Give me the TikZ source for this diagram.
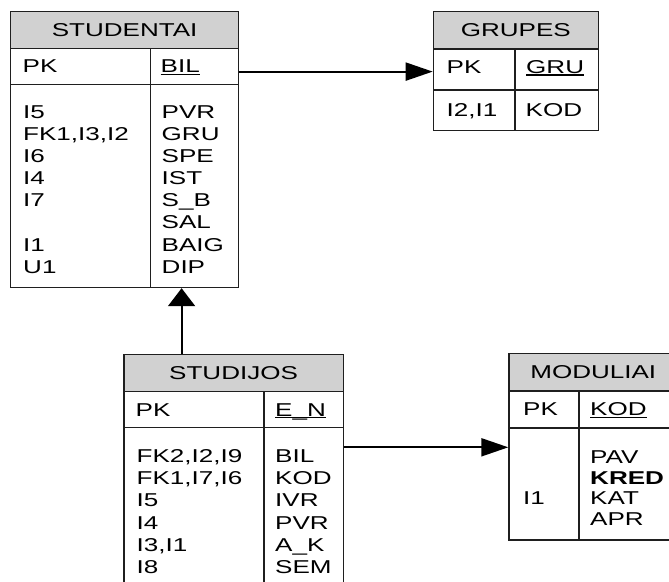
\documentclass[tikz,border=0pt]{standalone}
\usepackage{fontspec}
\setmainfont{Liberation Sans}[FakeStretch=1.4]
\usetikzlibrary{arrows.meta}
\definecolor{hdrgray}{gray}{0.82}
\definecolor{edge}{gray}{0.12}

\begin{document}
\begin{tikzpicture}[x=1pt,y=-1pt,
  box/.style={draw=edge, line width=1.2pt, rectangle, inner sep=0pt, anchor=north west},
  hdr/.style={box, fill=hdrgray},
  txt/.style={inner sep=0pt, anchor=base west, text=black},
  ulin/.style={line width=1.2pt, black},
  link/.style={line width=2pt, black},
  tipH/.style={-{Triangle[length=27pt,width=18pt]}},
  tipV/.style={-{Triangle[length=18pt,width=27pt]}},
  font=\fontsize{18.6pt}{22pt}\selectfont]

\useasboundingbox (0,0) rectangle (669,581);
\clip (0,0) rectangle (669,581);

% ---------- STUDENTAI ----------
\node[hdr, minimum width=228pt, minimum height=37pt] (st-h) at (10,11) {STUDENTAI};
\node[box, minimum width=140pt, minimum height=36pt] (st-kl) at (10,48) {};
\node[box, minimum width=88pt, minimum height=36pt] (st-kr) at (150,48) {};
\node[box, minimum width=140pt, minimum height=203pt] (st-bl) at (10,84) {};
\node[box, minimum width=88pt, minimum height=203pt] (st-br) at (150,84) {};
\node[txt] (st-pk) at (22.5,72.6) {PK};
\node[txt] (st-key) at (160.5,72.6) {BIL};
\draw[ulin] ([yshift=-1.8pt]st-key.base west) -- ([yshift=-1.8pt]st-key.base east);
\foreach \l/\r [count=\i from 0] in {I5/PVR, {FK1,I3,I2}/GRU, I6/SPE, I4/IST, I7/S\_B, {}/SAL, I1/BAIG, U1/DIP}{
  \node[txt] (st-l\i) at (23,118.4+22.1*\i) {\l};
  \node[txt] (st-r\i) at (161.5,118.4+22.1*\i) {\r};
}

% ---------- GRUPES ----------
\node[hdr, minimum width=165pt, minimum height=37.3pt] (gr-h) at (432.7,11) {GRUPES};
\node[box, minimum width=81.6pt, minimum height=41pt] (gr-kl) at (432.7,48.3) {};
\node[box, minimum width=83.4pt, minimum height=41pt] (gr-kr) at (514.3,48.3) {};
\node[box, minimum width=81.6pt, minimum height=40.7pt] (gr-bl) at (432.7,89.3) {};
\node[box, minimum width=83.4pt, minimum height=40.7pt] (gr-br) at (514.3,89.3) {};
\node[txt] (gr-pk) at (446.5,73.2) {PK};
\node[txt] (gr-key) at (526,73.2) {GRU};
\draw[ulin] ([yshift=-1.8pt]gr-key.base west) -- ([yshift=-1.8pt]gr-key.base east);
\node[txt] (gr-l0) at (446.5,116.7) {I2,I1};
\node[txt] (gr-r0) at (525.5,116.7) {KOD};

% ---------- STUDIJOS ----------
\node[hdr, minimum width=219.4pt, minimum height=37.5pt] (sj-h) at (123.3,353.5) {STUDIJOS};
\node[box, minimum width=140pt, minimum height=36pt] (sj-kl) at (123.3,391) {};
\node[box, minimum width=79.4pt, minimum height=36pt] (sj-kr) at (263.3,391) {};
\node[box, minimum width=140pt, minimum height=175pt] (sj-bl) at (123.3,427) {};
\node[box, minimum width=79.4pt, minimum height=175pt] (sj-br) at (263.3,427) {};
\node[txt] (sj-pk) at (135.5,416) {PK};
\node[txt] (sj-key) at (275,416) {E\_N};
\draw[ulin] ([yshift=-1.8pt]sj-key.base west) -- ([yshift=-1.8pt]sj-key.base east);
\foreach \l/\r [count=\i from 0] in {{FK2,I2,I9}/BIL, {FK1,I7,I6}/KOD, I5/IVR, I4/PVR, {I3,I1}/A\_K, I8/SEM}{
  \node[txt] (sj-l\i) at (136.5,462.7+22.1*\i) {\l};
  \node[txt] (sj-r\i) at (275,462.7+22.1*\i) {\r};
}

% ---------- MODULIAI ----------
\node[hdr, minimum width=168.7pt, minimum height=37.3pt] (md-h) at (508.3,353) {MODULIAI};
\node[box, minimum width=70pt, minimum height=37pt] (md-kl) at (508.3,390.3) {};
\node[box, minimum width=98.7pt, minimum height=37pt] (md-kr) at (578.3,390.3) {};
\node[box, minimum width=70pt, minimum height=112pt] (md-bl) at (508.3,427.3) {};
\node[box, minimum width=98.7pt, minimum height=112pt] (md-br) at (578.3,427.3) {};
\node[txt] (md-pk) at (523,415.5) {PK};
\node[txt] (md-key) at (590,415.5) {KOD};
\draw[ulin] ([yshift=-1.8pt]md-key.base west) -- ([yshift=-1.8pt]md-key.base east);
\node[txt] (md-r0) at (590,463.5) {PAV};
\node[txt] (md-r1) at (590,484) {\bfseries KRED};
\node[txt] (md-r2) at (590,504.5) {KAT};
\node[txt] (md-l2) at (523,504.5) {I1};
\node[txt] (md-r3) at (590,525) {APR};

% ---------- relationships ----------
\coordinate (gr-in) at ([yshift=-2.2pt]gr-kl.west);
\draw[link, tipH] (st-kr.east |- gr-in) -- (gr-in);

\coordinate (sj-up) at ([xshift=-52pt]sj-h.north);
\draw[link, tipV] (sj-up) -- (sj-up |- st-br.south);

\coordinate (md-in) at ([yshift=36.6pt]md-bl.west);
\draw[link, tipH] (sj-br.east |- md-in) -- (md-in);
\end{tikzpicture}
\end{document}
